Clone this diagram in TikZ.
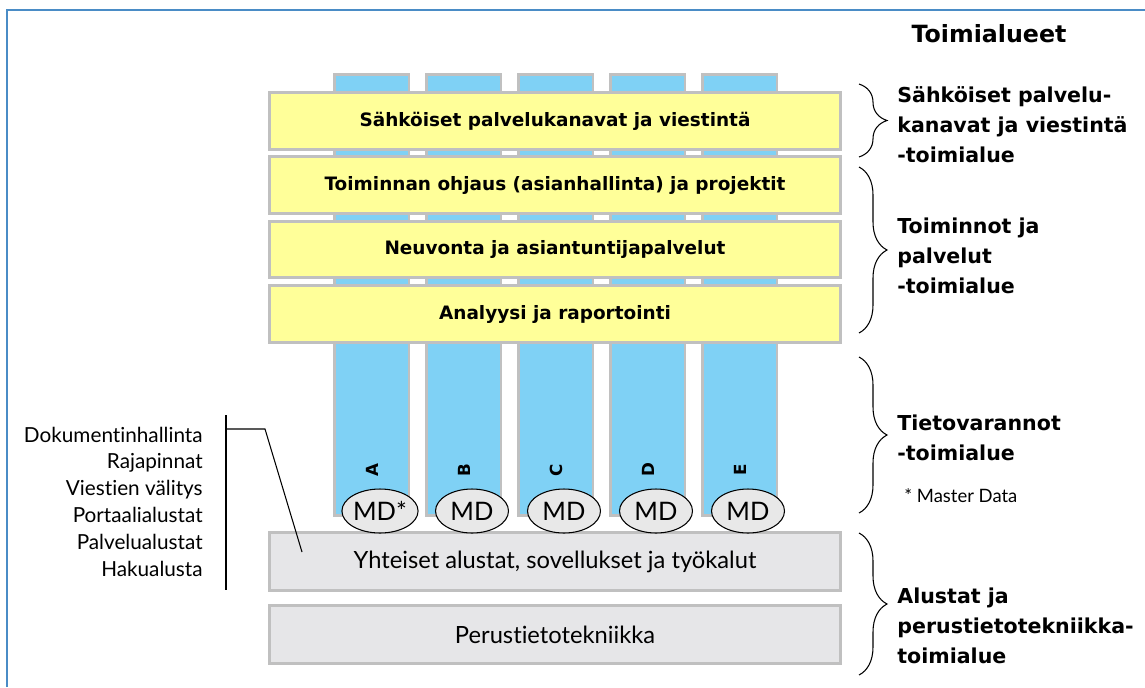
\documentclass[tikz,border=0pt]{standalone}
\usepackage{fontspec}
\setmainfont{Lato}[Ligatures=NoCommon]
\newfontfamily\heavyfont{DejaVu Sans}
\usepackage{tikz}
\usetikzlibrary{positioning,shapes.geometric,decorations.pathreplacing}
\definecolor{barYellow}{HTML}{FFFF99}
\definecolor{colBlue}{HTML}{7FD1F5}
\definecolor{edgeGray}{HTML}{C0C0C0}
\definecolor{baseGray}{HTML}{E6E6E8}
\definecolor{mdGray}{HTML}{E8E8E8}
\definecolor{frameBlue}{HTML}{4A8CC6}

\begin{document}
\begin{tikzpicture}[x=0.02cm,y=-0.02cm]
\tikzset{layer/.style={draw=edgeGray,line width=1.7pt,minimum width=11.42cm,minimum height=1.13cm,inner sep=0pt}}
\tikzset{domainbar/.style={layer,fill=barYellow,font=\heavyfont\bfseries\fontsize{10.5}{12}\selectfont}}
\tikzset{basebar/.style={layer,fill=baseGray,minimum height=1.15cm,font=\fontsize{13.5}{15}\selectfont}}
\tikzset{datacol/.style={draw=edgeGray,line width=1.7pt,fill=colBlue,minimum width=1.5cm,minimum height=8.82cm,inner sep=0pt}}
\tikzset{colletter/.style={rotate=90,font=\heavyfont\bfseries\fontsize{9.5}{10}\selectfont}}
\tikzset{mdbox/.style={ellipse,draw,fill=mdGray,line width=0.6pt,minimum width=1.46cm,minimum height=0.88cm,inner sep=0pt,font=\fontsize{14.5}{15}\selectfont}}
\tikzset{listitem/.style={anchor=base east,inner sep=0pt,font=\fontsize{11.8}{13}\selectfont}}
\tikzset{arealabel/.style={anchor=base west,align=left,inner sep=0pt,font=\heavyfont\bfseries\fontsize{11.7}{17}\selectfont}}
\tikzset{bracket/.style={decorate,decoration={brace,amplitude=0.56cm},line width=0.6pt}}
\useasboundingbox (0,0) rectangle (1145,687);
\draw[frameBlue,line width=1pt] (7,687) -- (7,10) -- (1145,10);

% data columns
\foreach \c [count=\i] in {A,B,C,D,E}
  \node[datacol] (col\c) at ({371.5+92*(\i-1)},295) {};

% domain layers
\node[domainbar] (sahk) at (555,121) {Sähköiset palvelukanavat ja viestintä};
\node[domainbar] (ohjaus) at (555,185) {Toiminnan ohjaus (asianhallinta) ja projektit};
\node[domainbar] (neuv) at (555,249.5) {Neuvonta ja asiantuntijapalvelut};
\node[domainbar] (analyysi) at (555,314) {Analyysi ja raportointi};

% platforms
\node[basebar] (yht) at (555,561.5) {Yhteiset alustat, sovellukset ja työkalut};
\node[basebar] (perus) at (555,634.5) {Perustietotekniikka};

\foreach \c/\t [count=\i] in {A/MD*,B/MD,C/MD,D/MD,E/MD} {
  \node[colletter] (let\c) at ({372+92*(\i-1)},470) {\c};
  \node[mdbox] (md\c) at ({380+92*(\i-1)},511) {\t};
}

% platform list
\foreach \t [count=\i] in {Dokumentinhallinta,Rajapinnat,Viestien välitys,Portaalialustat,Palvelualustat,Hakualusta}
  \node[listitem] (item\i) at (203,{442+26.8*(\i-1)}) {\t};
\coordinate (listtop) at (226,415);
\coordinate (listbot) at (226,590);
\coordinate (tap) at (226,429);
\coordinate (knee) at (265,429);
\coordinate (yhtpt) at (302,552);
\draw[line width=0.9pt] (listtop) -- (listbot);
\draw[line width=0.6pt] (tap) -- (knee) -- (yhtpt);

% domains on the right
\node[font=\heavyfont\bfseries\fontsize{13.5}{15}\selectfont,anchor=base] (title) at (989,42) {Toimialueet};
\draw[bracket] (859,84) -- (859,157);
\draw[bracket] (859,167) -- (859,333);
\draw[bracket] (859,357) -- (859,513);
\draw[bracket] (859,533) -- (859,675);
\node[arealabel] (areaSahk) at (897,162) {Sähköiset palvelu-\\kanavat ja viestintä\\-toimialue};
\node[arealabel] (areaToim) at (897,293) {Toiminnot ja\\palvelut\\-toimialue};
\node[arealabel] (areaTieto) at (897,460) {Tietovarannot\\-toimialue};
\node[anchor=base west,inner sep=0pt,font=\fontsize{10.5}{12}\selectfont] (note) at (904,502) {* Master Data};
\node[arealabel] (areaAlus) at (897,663) {Alustat ja\\perustietotekniikka-\\toimialue};
\end{tikzpicture}
\end{document}
